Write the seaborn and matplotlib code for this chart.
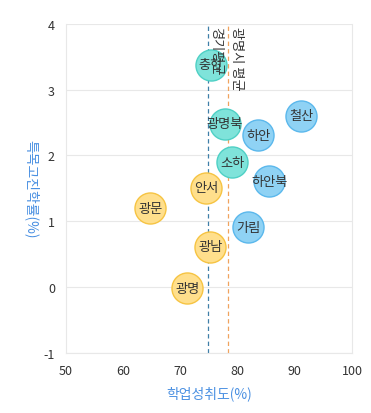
import matplotlib

matplotlib.use("Agg")
import matplotlib.pyplot as plt
import pandas as pd
import seaborn as sns

schools = ["충현", "광명북", "소하", "하안", "철산", "하안북", "가림", "안서", "광문", "광남", "광명"]
achievement = [75.3, 77.8, 79.0, 83.6, 91.1, 85.5, 81.8, 74.5, 64.7, 75.2, 71.2]
special_rate = [3.38, 2.48, 1.9, 2.31, 2.6, 1.61, 0.91, 1.51, 1.2, 0.61, -0.02]
group = ["teal", "teal", "teal", "blue", "blue", "blue", "blue", "yellow", "yellow", "yellow", "yellow"]

gyeonggi_avg = 74.8
gwangmyeong_avg = 78.3

fills = {"teal": "#7fe3da", "blue": "#8fd2f4", "yellow": "#ffdf8c"}
edges = {"teal": "#4fd0c5", "blue": "#5bb8ec", "yellow": "#f6c443"}

sns.set_theme(style="white")
plt.rcParams["font.family"] = ["Noto Sans CJK KR", "DejaVu Sans"]
plt.rcParams["axes.unicode_minus"] = False

df = pd.DataFrame({"school": schools, "x": achievement, "y": special_rate, "group": group})

fig = plt.figure(figsize=(3.71, 4.14), dpi=100)
ax = fig.add_axes([0.178, 0.145, 0.771, 0.795])

for y in range(-1, 5):
    ax.axhline(y, color="#e8e8e8", lw=0.8, zorder=0)

ax.axvline(gyeonggi_avg, color="#3f7fa8", lw=0.9, ls=(0, (3.5, 2.5)), zorder=1)
ax.axvline(gwangmyeong_avg, color="#f0a35e", lw=0.9, ls=(0, (3.5, 2.5)), zorder=1)

for g in ["yellow", "blue", "teal"]:
    sub = df[df["group"] == g]
    sns.scatterplot(data=sub, x="x", y="y", ax=ax, s=500, color=fills[g],
                    edgecolor=edges[g], linewidth=1.0, zorder=3, legend=False)

for _, r in df.iterrows():
    ax.text(r["x"], r["y"], r["school"], ha="center", va="center", fontsize=9.5,
            color="#333333", zorder=4)

ax.text(gyeonggi_avg + 0.3, 3.97, "경기평균", rotation=-90, ha="left", va="top",
        fontsize=9.5, color="#333333", zorder=5)
ax.text(gwangmyeong_avg + 0.3, 3.97, "광명시 평균", rotation=-90, ha="left", va="top",
        fontsize=9.5, color="#333333", zorder=5)

ax.set_xlim(50, 100)
ax.set_ylim(-1, 4)
ax.set_xticks(range(50, 101, 10))
ax.set_yticks(range(-1, 5))
ax.tick_params(length=0, labelsize=9, colors="#333333", pad=8)
ax.set_xlabel("학업성취도(%)", color="#4a90e2", fontsize=10, labelpad=6)
ax.set_ylabel("특목고진학률(%)", color="#4a90e2", fontsize=10, rotation=-90, labelpad=14)

for side in ["left", "right", "bottom"]:
    ax.spines[side].set_color("#e8e8e8")
    ax.spines[side].set_linewidth(0.8)
ax.spines["top"].set_visible(False)

fig.savefig("out.png", dpi=100)
